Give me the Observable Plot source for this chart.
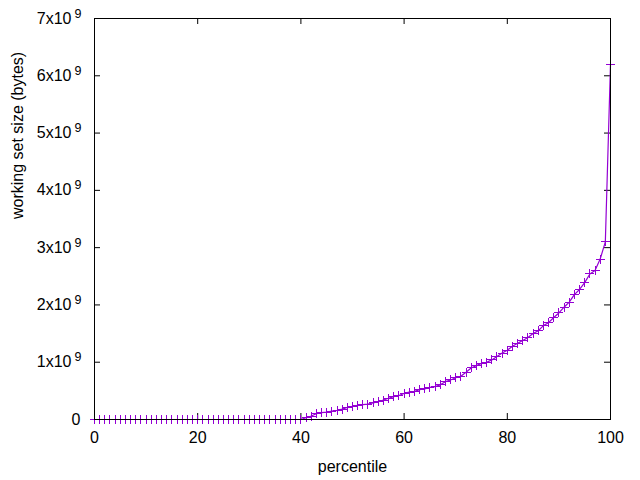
<!DOCTYPE html>
<html>
<head>
<meta charset="utf-8">
<script src="https://cdn.jsdelivr.net/npm/d3@7"></script>
<script src="https://cdn.jsdelivr.net/npm/@observablehq/plot@0.6"></script>
<style>
  html, body { margin: 0; padding: 0; background: #fff; }
  #chart svg { display: block; }
</style>
</head>
<body>
<div id="chart"></div>
<script>
// percentile (x) and working set size in bytes (y)
const percentiles = d3.range(0, 101);
const workingSet = [
  0, 0, 0, 0, 0, 0, 0, 0, 0, 0,
  0, 0, 0, 0, 0, 0, 0, 0, 0, 0,
  0, 0, 0, 0, 0, 0, 0, 0, 0, 0,
  0, 0, 0, 0, 0, 0, 0, 0, 0, 0,
  0,
  0.03e9, 0.06e9, 0.10e9, 0.12e9, 0.13e9, 0.145e9, 0.16e9, 0.18e9, 0.21e9, 0.23e9,
  0.245e9, 0.26e9, 0.27e9, 0.29e9, 0.31e9, 0.34e9, 0.37e9, 0.40e9, 0.42e9, 0.455e9,
  0.48e9, 0.49e9, 0.52e9, 0.535e9, 0.56e9, 0.575e9, 0.605e9, 0.66e9, 0.69e9, 0.73e9,
  0.755e9, 0.825e9, 0.90e9, 0.94e9, 0.98e9, 1.00e9, 1.04e9, 1.10e9, 1.16e9, 1.21e9,
  1.28e9, 1.33e9, 1.38e9, 1.43e9, 1.50e9, 1.55e9, 1.64e9, 1.69e9, 1.78e9, 1.86e9,
  1.96e9, 2.05e9, 2.18e9, 2.27e9, 2.39e9, 2.54e9, 2.60e9, 2.80e9, 3.10e9, 6.20e9
];

const xTicks = [0, 20, 40, 60, 80, 100];
const xTickLabels = ["0", "20", "40", "60", "80", "100"];
const yTicks = [0, 1e9, 2e9, 3e9, 4e9, 5e9, 6e9, 7e9];
const yTickLabels = ["0", "1x10", "2x10", "3x10", "4x10", "5x10", "6x10", "7x10"];
const yTickSup = ["", "9", "9", "9", "9", "9", "9", "9"];

const xLabel = "percentile";
const yLabel = "working set size (bytes)";

const data = percentiles.map((p, i) => ({p, v: workingSet[i]}));
const yTickData = yTicks.map((v, i) => ({v, label: yTickLabels[i], sup: yTickSup[i]}));
const xTickData = xTicks.map((v, i) => ({v, label: xTickLabels[i]}));

const color = "#9400d3";
const W = 640, H = 480;
const mL = 94, mR = 30, mT = 18, mB = 61;
const innerH = H - mT - mB;
const innerW = W - mL - mR;
const tick = 6;

const plusSymbol = {
  draw(ctx, size) {
    const s = Math.sqrt(size / Math.PI);
    ctx.moveTo(-s, 0); ctx.lineTo(s, 0);
    ctx.moveTo(0, -s); ctx.lineTo(0, s);
  }
};

const chart = Plot.plot({
  width: W,
  height: H,
  marginLeft: mL,
  marginRight: mR,
  marginTop: mT,
  marginBottom: mB,
  style: {fontFamily: "'Liberation Sans', Arial, sans-serif", fontSize: "16px", background: "#fff", color: "#000"},
  x: {domain: [0, 100], axis: null},
  y: {domain: [0, 7e9], axis: null},
  marks: [
    // ticks (inward, mirrored)
    Plot.ruleX(xTickData, {x: "v", insetTop: innerH - tick, stroke: "#000"}),
    Plot.ruleX(xTickData, {x: "v", insetBottom: innerH - tick, stroke: "#000"}),
    Plot.ruleY(yTickData, {y: "v", insetRight: innerW - tick, stroke: "#000"}),
    Plot.ruleY(yTickData, {y: "v", insetLeft: innerW - tick, stroke: "#000"}),
    // data
    Plot.line(data, {x: "p", y: "v", stroke: color, strokeWidth: 1.2}),
    Plot.dot(data, {x: "p", y: "v", symbol: plusSymbol, r: 4.5, stroke: color, fill: "none", strokeWidth: 1, shapeRendering: "crispEdges"}),
    Plot.frame({stroke: "#000", strokeWidth: 1}),
    // x tick labels
    Plot.text(xTickData, {x: "v", text: "label", frameAnchor: "bottom", dy: 18, lineAnchor: "middle", fontSize: 16}),
    // y tick labels
    Plot.text(yTickData.filter(d => d.sup === ""), {y: "v", text: "label", frameAnchor: "left", textAnchor: "end", dx: -14, lineAnchor: "middle", fontSize: 16}),
    Plot.text(yTickData.filter(d => d.sup !== ""), {y: "v", text: "label", frameAnchor: "left", textAnchor: "end", dx: -23, lineAnchor: "middle", fontSize: 16}),
    Plot.text(yTickData.filter(d => d.sup !== ""), {y: "v", text: "sup", frameAnchor: "left", textAnchor: "start", dx: -20, dy: -5, lineAnchor: "middle", fontSize: 12.5}),
    // axis labels
    Plot.text([xLabel], {x: 50, text: d => d, frameAnchor: "bottom", dy: 47, lineAnchor: "middle", fontSize: 16}),
    Plot.text([yLabel], {y: 3.5e9, text: d => d, frameAnchor: "left", dx: -77, rotate: -90, lineAnchor: "middle", fontSize: 16})
  ]
});

document.getElementById("chart").appendChild(chart);
</script>
</body>
</html>
